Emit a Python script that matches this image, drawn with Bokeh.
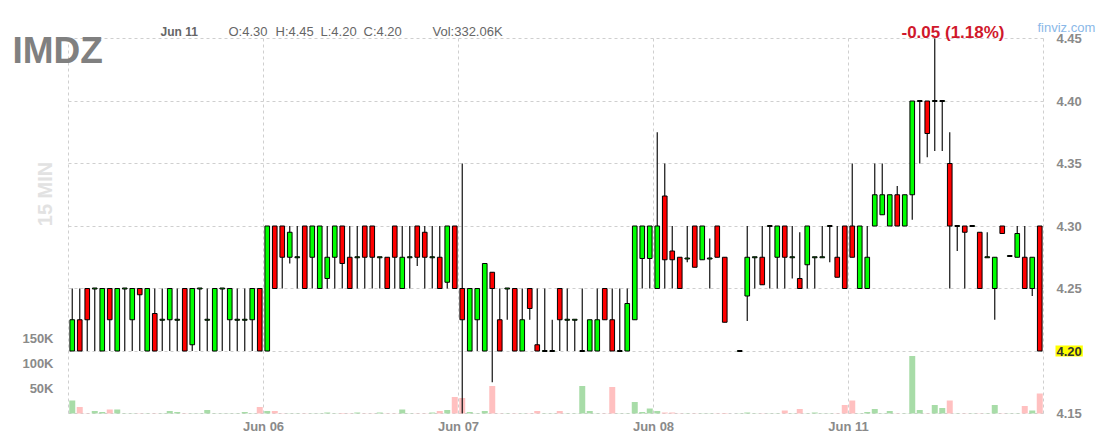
import math
from bokeh.plotting import figure
from bokeh.models import (Range1d, LinearAxis, FixedTicker, PrintfTickFormatter,
                          NumeralTickFormatter, Label, ColumnDataSource, Grid)
from bokeh.embed import file_html
from bokeh.resources import INLINE

NaN = math.nan

symbol = "IMDZ"
timeframe = "15 MIN"
day_ticks = [26, 52, 78, 104]
day_labels = ["Jun 06", "Jun 07", "Jun 08", "Jun 11"]
price_ticks = [4.15, 4.20, 4.25, 4.30, 4.35, 4.40, 4.45]
vol_ticks = [50, 100, 150]  # thousands
last_close = 4.20
header_date = "Jun 11"
header_ohlc = ["O:4.30", "H:4.45", "L:4.20", "C:4.20"]
header_vol = "Vol:332.06K"
header_change = "-0.05 (1.18%)"

opens = [
    # Jun 05
    4.20, 4.225, 4.25, 4.25, 4.20, 4.25, 4.20, 4.25, 4.225, 4.25, 4.20, 4.23, 4.225,
    4.225, 4.225, 4.25, 4.205, 4.25, 4.225, 4.20, 4.25, 4.225, 4.225, 4.225, 4.225, 4.25,
    # Jun 06
    4.20, 4.30, 4.30, 4.275, 4.275, 4.30, 4.275, 4.25, 4.258, 4.275, 4.30, 4.275, 4.275,
    4.30, 4.30, 4.275, 4.275, 4.30, 4.25, 4.275, 4.30, 4.295, 4.275, 4.275, 4.255, 4.30,
    # Jun 07
    4.25, 4.20, 4.225, 4.20, 4.263, 4.225, 4.25, 4.25, 4.20, 4.25, 4.205, 4.20, 4.20,
    4.25, 4.225, 4.225, 4.20, 4.20, 4.20, 4.25, 4.225, 4.20, 4.20, 4.225, 4.274, 4.274,
    # Jun 08
    4.25, 4.324, 4.28, 4.275, 4.274, 4.30, 4.273, 4.274, 4.30, 4.275, NaN, 4.20, 4.244,
    4.275, 4.275, 4.30, 4.275, 4.30, 4.275, 4.258, 4.269, 4.275, 4.275, 4.30, 4.275, 4.30,
    # Jun 11
    4.30, 4.25, 4.25, 4.30, 4.309, 4.30, 4.325, 4.30, 4.325, 4.40, 4.40, 4.40, 4.40,
    4.35, 4.30, 4.30, 4.30, 4.295, 4.275, 4.25, 4.30, 4.276, 4.275, 4.275, 4.25, 4.30,
]
highs = [
    # Jun 05
    4.25, 4.25, 4.25, 4.25, 4.25, 4.25, 4.25, 4.25, 4.25, 4.25, 4.25, 4.25, 4.25,
    4.25, 4.25, 4.25, 4.25, 4.25, 4.25, 4.25, 4.25, 4.25, 4.25, 4.25, 4.25, 4.25,
    # Jun 06
    4.30, 4.30, 4.30, 4.30, 4.30, 4.30, 4.30, 4.30, 4.30, 4.30, 4.30, 4.30, 4.30,
    4.30, 4.30, 4.275, 4.275, 4.30, 4.30, 4.30, 4.30, 4.30, 4.30, 4.30, 4.30, 4.30,
    # Jun 07
    4.35, 4.25, 4.25, 4.27, 4.263, 4.25, 4.25, 4.25, 4.25, 4.25, 4.25, 4.25, 4.225,
    4.25, 4.25, 4.225, 4.25, 4.225, 4.25, 4.25, 4.25, 4.25, 4.25, 4.30, 4.30, 4.30,
    # Jun 08
    4.375, 4.35, 4.30, 4.275, 4.30, 4.30, 4.30, 4.29, 4.30, 4.275, NaN, 4.20, 4.30,
    4.275, 4.30, 4.30, 4.30, 4.30, 4.30, 4.295, 4.30, 4.275, 4.30, 4.30, 4.30, 4.30,
    # Jun 11
    4.35, 4.30, 4.30, 4.35, 4.35, 4.325, 4.332, 4.325, 4.40, 4.40, 4.40, 4.45, 4.40,
    4.375, 4.30, 4.30, 4.30, 4.295, 4.295, 4.275, 4.30, 4.276, 4.30, 4.30, 4.275, 4.30,
]
lows = [
    # Jun 05
    4.20, 4.20, 4.20, 4.20, 4.20, 4.20, 4.20, 4.20, 4.20, 4.20, 4.20, 4.20, 4.20,
    4.20, 4.20, 4.20, 4.20, 4.20, 4.20, 4.20, 4.20, 4.20, 4.20, 4.20, 4.20, 4.20,
    # Jun 06
    4.20, 4.25, 4.25, 4.27, 4.25, 4.25, 4.25, 4.25, 4.25, 4.25, 4.25, 4.25, 4.25,
    4.25, 4.25, 4.25, 4.25, 4.25, 4.25, 4.25, 4.268, 4.25, 4.25, 4.25, 4.25, 4.25,
    # Jun 07
    4.15, 4.20, 4.20, 4.20, 4.175, 4.20, 4.225, 4.20, 4.20, 4.225, 4.20, 4.20, 4.20,
    4.20, 4.20, 4.20, 4.20, 4.20, 4.20, 4.225, 4.20, 4.20, 4.20, 4.225, 4.25, 4.25,
    # Jun 08
    4.25, 4.25, 4.25, 4.25, 4.271, 4.267, 4.273, 4.25, 4.275, 4.223, NaN, 4.20, 4.224,
    4.25, 4.253, 4.25, 4.25, 4.25, 4.258, 4.25, 4.25, 4.25, 4.275, 4.271, 4.259, 4.25,
    # Jun 11
    4.275, 4.25, 4.25, 4.30, 4.309, 4.30, 4.30, 4.30, 4.305, 4.35, 4.355, 4.36, 4.36,
    4.25, 4.28, 4.25, 4.30, 4.25, 4.275, 4.225, 4.294, 4.276, 4.275, 4.25, 4.244, 4.20,
]
closes = [
    # Jun 05
    4.225, 4.20, 4.225, 4.25, 4.25, 4.225, 4.25, 4.25, 4.25, 4.245, 4.25, 4.20, 4.225,
    4.25, 4.225, 4.20, 4.25, 4.25, 4.225, 4.25, 4.25, 4.25, 4.225, 4.225, 4.25, 4.20,
    # Jun 06
    4.30, 4.25, 4.275, 4.295, 4.275, 4.25, 4.30, 4.30, 4.275, 4.30, 4.27, 4.25, 4.275,
    4.275, 4.275, 4.275, 4.25, 4.275, 4.275, 4.275, 4.275, 4.275, 4.275, 4.25, 4.30, 4.25,
    # Jun 07
    4.225, 4.25, 4.25, 4.27, 4.25, 4.20, 4.25, 4.20, 4.225, 4.234, 4.20, 4.20, 4.20,
    4.225, 4.225, 4.225, 4.20, 4.225, 4.225, 4.225, 4.20, 4.20, 4.238, 4.30, 4.30, 4.30,
    # Jun 08
    4.30, 4.273, 4.273, 4.25, 4.274, 4.267, 4.30, 4.274, 4.275, 4.223, NaN, 4.20, 4.275,
    4.275, 4.253, 4.30, 4.30, 4.275, 4.275, 4.25, 4.30, 4.275, 4.275, 4.30, 4.259, 4.25,
    # Jun 11
    4.275, 4.30, 4.275, 4.325, 4.325, 4.325, 4.30, 4.325, 4.40, 4.40, 4.374, 4.40, 4.40,
    4.30, 4.30, 4.295, 4.30, 4.25, 4.275, 4.275, 4.294, 4.276, 4.294, 4.25, 4.275, 4.20,
]
volumes_k = [
    # Jun 05
    26, 13, 0.5, 5, 3, 8, 8, 0.5, 0.5, 0.5, 0.5, 0.5, 0.5,
    5, 3, 0.5, 0.5, 0.5, 7, 0.5, 0.5, 0.5, 0.5, 3, 0.5, 13,
    # Jun 06
    5, 5, 0.5, 0.5, 0.5, 0.5, 0.5, 0.5, 2, 0.5, 1, 0.5, 2,
    0.5, 0.5, 2, 0.5, 0.5, 8, 0.5, 0.5, 0.5, 2, 5, 7, 33,
    # Jun 07
    31, 3, 0.5, 5, 55, 0.5, 0.5, 0.5, 0.5, 0.5, 5, 0.5, 0.5,
    5, 0.5, 0.5, 55, 5, 0.5, 0.5, 53, 0.5, 0.5, 23, 3, 10,
    # Jun 08
    5, 2, 2, 0.5, 0.5, 0.5, 0.5, 0.5, 0.5, 1, 0, 0.5, 2,
    0.5, 0.5, 0.5, 0.5, 6, 0.5, 9, 0.5, 2, 0.5, 0.5, 0.5, 17,
    # Jun 11
    26, 0.5, 3, 9, 0.5, 5, 0.5, 0.5, 115, 7, 0.5, 17, 11,
    26, 0.5, 0.5, 0.5, 0.5, 0.5, 17, 0.5, 0.5, 0.5, 15, 6, 40,
]

# ---- derived columns ----
n = len(opens)
xs = [i + 0.5 for i in range(n)]
tops, bots, fills, vcols = [], [], [], []
min_half = 0.0004
for o, c in zip(opens, closes):
    if math.isnan(o):
        tops.append(NaN); bots.append(NaN); fills.append("#00ff00"); vcols.append("#a8dca8")
        continue
    t, b = max(o, c), min(o, c)
    if t - b < 2 * min_half:
        m = (t + b) / 2
        t, b = m + min_half, m - min_half
    tops.append(t); bots.append(b)
    up = c >= o
    fills.append("#00ff00" if up else "#ff0000")
    vcols.append("#a8dca8" if up else "#ffc0c0")

src = ColumnDataSource(dict(x=xs, h=highs, l=lows, top=tops, bot=bots,
                            fill=fills, vol=volumes_k, vcol=vcols))

FONT = "Liberation Sans"
GRID = "#cfcfcf"
LBL = "#8a8a8a"

# canvas layout: plot area 68..1043 px (x) and 38..413 px (y) inside a 1101x440 canvas
W, H = 1101, 440
L_PX, R_PX, T_PX, B_PX = 68, 1043, 38, 413
px_per_bar = (R_PX - L_PX) / n
px_per_price = (B_PX - T_PX) / (price_ticks[-1] - price_ticks[0])
px_per_vol = 25 / 50.0
x_lo = -L_PX / px_per_bar
x_hi = (W - L_PX) / px_per_bar
y_lo = price_ticks[0] - (H - B_PX) / px_per_price
y_hi = price_ticks[-1] + T_PX / px_per_price
v_lo = -(H - B_PX) / px_per_vol
v_hi = B_PX / px_per_vol

p = figure(width=W, height=H, x_range=Range1d(x_lo, x_hi), y_range=Range1d(y_lo, y_hi),
           y_axis_location="right", output_backend="svg", toolbar_location=None,
           min_border=0, background_fill_color="white", border_fill_color="white",
           outline_line_color=None)
p.extra_y_ranges = {"vol": Range1d(v_lo, v_hi)}

# grids (dashed, limited to the price panel)
grid_x_ticks = [0] + day_ticks + [n]
p.xgrid.ticker = FixedTicker(ticks=grid_x_ticks)
p.ygrid.ticker = FixedTicker(ticks=price_ticks)
has_cross = "cross_bounds" in Grid.properties()
for g in (p.xgrid[0], p.ygrid[0]):
    g.grid_line_color = GRID
    g.grid_line_dash = "3 3"
    g.grid_line_width = 1
if has_cross:
    p.xgrid[0].cross_bounds = (price_ticks[0], price_ticks[-1])
    p.ygrid[0].cross_bounds = (0, n)
else:
    p.xgrid.visible = False
    p.ygrid.visible = False
    p.segment(x0=grid_x_ticks, x1=grid_x_ticks, y0=[price_ticks[0]] * len(grid_x_ticks),
              y1=[price_ticks[-1]] * len(grid_x_ticks), line_color=GRID, line_dash="3 3")
    p.segment(x0=[0] * len(price_ticks), x1=[n] * len(price_ticks), y0=price_ticks,
              y1=price_ticks, line_color=GRID, line_dash="3 3")

# volume bars
p.vbar(x="x", top="vol", bottom=0, width=0.8, y_range_name="vol",
       fill_color="vcol", line_color=None, source=src)
# wicks
p.segment(x0="x", y0="h", x1="x", y1="l", line_color="#111111",
          line_width=1.2, source=src)
# bodies
p.vbar(x="x", top="top", bottom="bot", width=0.62, fill_color="fill",
       line_color="#000000", line_width=1, source=src)

def style_axis(ax, standoff):
    ax.axis_line_color = None
    ax.major_tick_line_color = None
    ax.minor_tick_line_color = None
    ax.major_tick_out = 0
    ax.major_tick_in = 0
    ax.major_label_standoff = standoff
    ax.major_label_text_font = FONT
    ax.major_label_text_font_size = "13px"
    ax.major_label_text_font_style = "bold"
    ax.major_label_text_color = LBL

# price axis (right edge of the price panel)
price_axis = p.yaxis[0]
price_axis.ticker = FixedTicker(ticks=price_ticks)
price_axis.formatter = NumeralTickFormatter(format="0.00")
price_axis.fixed_location = n
style_axis(price_axis, 13)

# x axis (bottom edge)
xax = p.xaxis[0]
xax.ticker = FixedTicker(ticks=day_ticks)
xax.major_label_overrides = {t: s for t, s in zip(day_ticks, day_labels)}
xax.fixed_location = price_ticks[0]
style_axis(xax, 5)

# volume axis (left edge)
vol_axis = LinearAxis(y_range_name="vol", ticker=FixedTicker(ticks=vol_ticks),
                      formatter=PrintfTickFormatter(format="%dK"), fixed_location=0)
style_axis(vol_axis, 15)
p.add_layout(vol_axis, "left")

# ---- text annotations ----
def ix(px):
    return (px - L_PX) / px_per_bar

def iy(py):
    return price_ticks[-1] + (T_PX - py) / px_per_price

def lab(text, px, py, size, color, bold=True, **kw):
    p.add_layout(Label(x=ix(px), y=iy(py), text=text, text_font=FONT,
                       text_font_size=size, text_color=color,
                       text_font_style="bold" if bold else "normal",
                       text_baseline=kw.pop("baseline", "alphabetic"), **kw))

lab(symbol, 12, 50, "37px", "#808080")
lab(header_date, 160, 31, "12px", "#666666")
for t, px in zip(header_ohlc, [228, 275, 320, 363]):
    lab(t, px, 31, "13px", "#666666", bold=False)
lab(header_vol, 432, 31, "13px", "#666666", bold=False)
lab(header_change, 901, 32, "17px", "#d0182c")
lab("finviz.com", 1037, 27, "13px", "#8ab8e8", bold=False)
lab(timeframe, 44.5, 193.5, "20px", "#e2e2e2", angle=math.pi / 2,
    text_align="center", baseline="middle")

# highlighted last price on the price axis
p.add_layout(Label(x=ix(1055), y=last_close, text="%.2f" % last_close,
                   text_font=FONT, text_font_size="13px", text_font_style="bold",
                   text_color="#333333", text_baseline="middle", text_align="left",
                   background_fill_color="#ffff00", padding=1, level="overlay"))

open("out.html", "w").write(file_html(p, INLINE))
